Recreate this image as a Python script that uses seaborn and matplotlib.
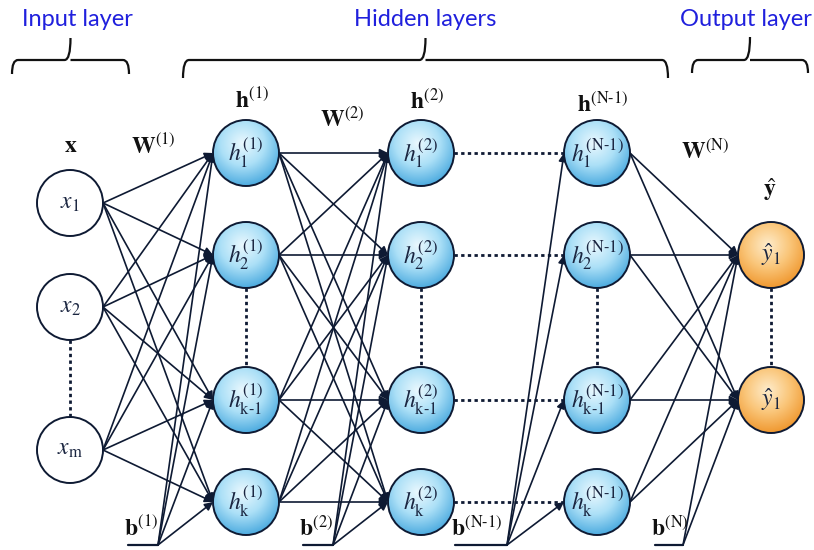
import numpy as np
import matplotlib
matplotlib.use("Agg")
import matplotlib.pyplot as plt
import seaborn as sns
from matplotlib.patches import Circle, FancyArrowPatch, PathPatch
from matplotlib.path import Path

sns.set_theme(style="white")
plt.rcParams['font.family'] = ['Lato', 'DejaVu Sans']
plt.rcParams['mathtext.fontset'] = 'stix'

# ---- diagram content ----
group_titles = ["Input layer", "Hidden layers", "Output layer"]
input_labels = [r"$x_1$", r"$x_2$", r"$x_{\mathrm{m}}$"]
hidden_layers = [r"1", r"2", r"N\text{-}1"]
hidden_rows = [r"1", r"2", r"k\text{-}1", r"k"]
output_labels = [r"$\hat{y}_1$", r"$\hat{y}_1$"]
weight_labels = [r"$\mathbf{W}^{(1)}$", r"$\mathbf{W}^{(2)}$", r"$\mathbf{W}^{(\mathrm{N})}$"]
bias_labels = [r"1", r"2", r"N\text{-}1", r"N"]

# ---- layout (pixels, origin top-left) ----
W, H = 814, 550
navy = "#0e1a33"
blue_txt = "#2020dd"
in_x, in_y = 70, [203, 307, 450]
hid_x, hid_y = [246, 421, 597], [153, 255, 400, 502]
out_x, out_y = 771, [255, 400]
R = 33
bias_pts = [(158, 545), (333, 545), (507, 545), (683, 545)]
bias_line_x0 = [128, 303, 455, 655]

fig = plt.figure(figsize=(W / 100, H / 100), dpi=100)
ax = fig.add_axes([0, 0, 1, 1])
ax.set_xlim(0, W)
ax.set_ylim(H, 0)
ax.axis('off')

blue_cmap = sns.blend_palette(["#eaf8fe", "#ace0f7", "#47a8de"], as_cmap=True)
orange_cmap = sns.blend_palette(["#feeccb", "#fac67a", "#ef952b"], as_cmap=True)


def node(cx, cy, label, cmap=None):
    circ = Circle((cx, cy), R, facecolor="white" if cmap is None else "none",
                  edgecolor=navy, lw=1.4, zorder=5)
    ax.add_patch(circ)
    if cmap is not None:
        g = np.linspace(-1, 1, 120)
        gx, gy = np.meshgrid(g, g)
        rad = np.sqrt((gx + 0.1) ** 2 + (gy + 0.3) ** 2)
        im = ax.imshow(rad, cmap=cmap, vmin=0, vmax=1.35,
                       extent=(cx - R, cx + R, cy + R, cy - R), zorder=4)
        im.set_clip_path(Circle((cx, cy), R, transform=ax.transData))
    ax.text(cx, cy, label, ha="center", va="center", fontsize=17,
            color="#1a2540", zorder=6)


def arrow(p0, p1):
    ax.add_patch(FancyArrowPatch(p0, p1, arrowstyle="-|>", mutation_scale=12,
                                 lw=1.2, color=navy, shrinkA=0, shrinkB=0,
                                 zorder=3))


def dotted(p0, p1):
    ax.plot([p0[0], p1[0]], [p0[1], p1[1]], ls=(0, (1.2, 1.2)), lw=2,
            color=navy, zorder=2)


def brace(x0, x1, y_top, y_line, y_bot):
    xc = (x0 + x1) / 2
    verts = [(x0, y_bot), (x0, y_line), (x0 + 6, y_line),
             (xc - 6, y_line), (xc, y_line), (xc, y_top),
             (xc, y_line), (xc + 6, y_line),
             (x1 - 6, y_line), (x1, y_line), (x1, y_bot)]
    codes = [Path.MOVETO, Path.CURVE3, Path.CURVE3,
             Path.LINETO, Path.CURVE3, Path.CURVE3,
             Path.MOVETO, Path.LINETO,
             Path.LINETO, Path.CURVE3, Path.CURVE3]
    ax.add_patch(PathPatch(Path(verts, codes), fc="none", ec="#111111",
                           lw=1.6, zorder=2))


# group titles + braces
title_x = [77, 425, 746]
for t, tx in zip(group_titles, title_x):
    ax.text(tx, 19, t, ha="center", va="center", fontsize=17, color=blue_txt)
brace(12, 129, 38, 60, 74)
brace(183, 668, 38, 60, 78)
brace(692, 808, 37, 60, 73)

# nodes
for lab, y in zip(input_labels, in_y):
    node(in_x, y, lab)
for lx, layer in zip(hid_x, hidden_layers):
    for row, y in zip(hidden_rows, hid_y):
        node(lx, y, r"$h^{(\mathrm{%s})}_{\mathrm{%s}}$" % (layer, row), blue_cmap)
for lab, y in zip(output_labels, out_y):
    node(out_x, y, lab, orange_cmap)

# weight connections
for ys in in_y:
    for yt in hid_y:
        arrow((in_x + R, ys), (hid_x[0] - R, yt))
for ys in hid_y:
    for yt in hid_y:
        arrow((hid_x[0] + R, ys), (hid_x[1] - R, yt))
for ys in hid_y:
    for yt in out_y:
        arrow((hid_x[2] + R, ys), (out_x - R, yt))

# bias connections
targets = [[(hid_x[i] - R, y) for y in hid_y] for i in range(3)]
targets.append([(out_x - R, y) for y in out_y])
for lab, bp, x0, tg in zip(bias_labels, bias_pts, bias_line_x0, targets):
    ax.plot([x0, bp[0]], [bp[1], bp[1]], color=navy, lw=1.6, zorder=3)
    ax.text(x0 - 4, bp[1] - 5, r"$\mathbf{b}^{(\mathrm{%s})}$" % lab,
            ha="left", va="bottom", fontsize=17, color="#111111", zorder=6)
    for t in tg:
        arrow(bp, t)

# dotted "..." links
dotted((in_x, in_y[1] + R), (in_x, in_y[2] - R))
for lx in hid_x:
    dotted((lx, hid_y[1] + R), (lx, hid_y[2] - R))
dotted((out_x, out_y[0] + R), (out_x, out_y[1] - R))
for y in hid_y:
    dotted((hid_x[1] + R, y), (hid_x[2] - R, y))

# layer labels
ax.text(71, 146, r"$\mathbf{x}$", ha="center", va="center", fontsize=17, color="#111111")
ax.text(770, 190, r"$\hat{\mathbf{y}}$", ha="center", va="center", fontsize=17, color="#111111")
for lx, layer, ly in zip(hid_x, hidden_layers, [100, 100, 103]):
    ax.text(lx + 6, ly, r"$\mathbf{h}^{(\mathrm{%s})}$" % layer, ha="center",
            va="center", fontsize=17, color="#111111")
for lab, (wx, wy) in zip(weight_labels, [(153, 146), (342, 118), (705, 150)]):
    ax.text(wx, wy, lab, ha="center", va="center", fontsize=17, color="#111111")

fig.savefig("out.png", dpi=100)
